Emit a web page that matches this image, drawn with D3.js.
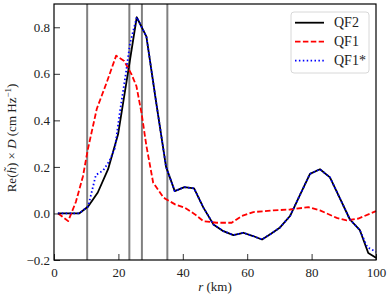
<!DOCTYPE html>
<html>
<head>
<meta charset="utf-8">
<script src="https://cdn.jsdelivr.net/npm/d3@7"></script>
<style>
  body { margin: 0; background: #fff; }
  svg { display: block; }
  svg text { font-family: "Liberation Serif", "DejaVu Serif", serif; }
</style>
</head>
<body>
<script>
// values
// QF2 (black solid)
var rQF2 = [1.2, 4.5, 7.8, 10.6, 13.6, 16.8, 19.9, 22.8, 25.7, 28.7, 31.7, 34.8, 37.5, 40.5, 43.5, 46.4, 49.5, 52.6, 55.7, 58.8, 61.8, 64.6, 67.4, 70.2, 73.3, 76.4, 79.5, 82.6, 85.7, 88.8, 91.9, 95.0, 97.6, 100];
var qf2 = [0, 0, 0, 0.03, 0.09, 0.19, 0.34, 0.59, 0.843, 0.76, 0.48, 0.2, 0.096, 0.113, 0.108, 0.025, -0.047, -0.076, -0.093, -0.083, -0.097, -0.112, -0.087, -0.06, -0.011, 0.08, 0.17, 0.19, 0.155, 0.065, -0.026, -0.072, -0.17, -0.19];

// QF1 (red dashed)
var rQF1 = [1.3, 4.4, 6.8, 9.0, 10.5, 13.3, 16.5, 19.3, 21.8, 24.0, 25.6, 27.2, 28.7, 30.8, 34.0, 37.6, 40.7, 43.8, 46.4, 50.5, 55.2, 58.3, 61.9, 68.1, 73.3, 79.0, 82.6, 87.8, 90.9, 94.5, 100];
var qf1 = [0, -0.033, 0.05, 0.16, 0.275, 0.45, 0.568, 0.678, 0.655, 0.6, 0.547, 0.43, 0.29, 0.132, 0.068, 0.039, 0.024, -0.004, -0.033, -0.04, -0.04, -0.011, 0.006, 0.013, 0.017, 0.027, 0.013, -0.019, -0.03, -0.022, 0.01];

// QF1* (blue dotted)
var rQF1s = [1.2, 4.5, 7.8, 10.6, 13.0, 15.3, 17.2, 18.9, 20.5, 22.3, 23.6, 25.7, 28.7, 31.7, 34.8, 37.5, 40.5, 43.5, 46.4, 49.5, 52.6, 55.7, 58.8, 61.8, 64.6, 67.4, 70.2, 73.3, 76.4, 79.5, 82.6, 85.7, 88.8, 91.9, 95.0, 97.3, 100];
var qf1s = [0, 0, 0, 0.03, 0.165, 0.185, 0.225, 0.28, 0.44, 0.6, 0.73, 0.843, 0.76, 0.48, 0.2, 0.096, 0.113, 0.108, 0.025, -0.047, -0.076, -0.093, -0.083, -0.097, -0.112, -0.087, -0.06, -0.011, 0.08, 0.17, 0.19, 0.155, 0.065, -0.026, -0.072, -0.145, -0.165];

// vertical marker lines (km)
var vLines = [10.3, 23.4, 27.3, 35.2];

var xTicks = [0, 20, 40, 60, 80, 100];
var yTicks = [-0.2, 0.0, 0.2, 0.4, 0.6, 0.8];

var series = [
    {name: 'QF2', r: rQF2, v: qf2, color: 'black', dash: null},
    {name: 'QF1', r: rQF1, v: qf1, color: 'red', dash: '5.5,2.4'},
    {name: 'QF1*', r: rQF1s, v: qf1s, color: 'blue', dash: '1.5,2.4'}
];

var width = 390, height = 298;
var margin = {left: 54, right: 14, top: 4, bottom: 38};

var svg = d3.select('body').append('svg')
    .attr('width', width)
    .attr('height', height);

var x = d3.scaleLinear().domain([0, 100]).range([margin.left, width - margin.right]);
var y = d3.scaleLinear().domain([-0.2, 0.9]).range([height - margin.bottom, margin.top]);

// gray vertical lines behind the data
svg.selectAll('.vline').data(vLines).enter().append('line')
    .attr('class', 'vline')
    .attr('x1', d => x(d)).attr('x2', d => x(d))
    .attr('y1', y(-0.2)).attr('y2', y(0.9))
    .attr('stroke', '#808080')
    .attr('stroke-width', 2);

var line = d3.line();

series.forEach(function(s){
    var pts = s.r.map((r, i) => [x(r), y(s.v[i])]);
    svg.append('path')
        .attr('d', line(pts))
        .attr('fill', 'none')
        .attr('stroke', s.color)
        .attr('stroke-width', 1.8)
        .attr('stroke-dasharray', s.dash)
        .attr('stroke-linejoin', 'round');
});

// axes, ticks pointing inward
var xAxis = svg.append('g')
    .attr('transform', 'translate(0,' + y(-0.2) + ')')
    .call(d3.axisBottom(x).tickValues(xTicks).tickSizeInner(-6).tickSizeOuter(0).tickPadding(8));
var yAxis = svg.append('g')
    .attr('transform', 'translate(' + x(0) + ',0)')
    .call(d3.axisLeft(y).tickValues(yTicks).tickSizeInner(-6).tickSizeOuter(0).tickPadding(4)
        .tickFormat(d => (d < 0 ? '\u2212' : '') + Math.abs(d).toFixed(1)));

[xAxis, yAxis].forEach(function(g){
    g.select('.domain').remove();
    g.selectAll('.tick line').attr('stroke', 'black').attr('stroke-width', 0.8);
    g.selectAll('.tick text')
        .style('font-size', '13px')
        .style('font-family', '"Liberation Serif", serif')
        .attr('fill', '#222');
});

// frame
svg.append('rect')
    .attr('x', x(0)).attr('y', y(0.9))
    .attr('width', x(100) - x(0)).attr('height', y(-0.2) - y(0.9))
    .attr('fill', 'none').attr('stroke', 'black').attr('stroke-width', 1.2);

// axis labels
svg.append('text')
    .attr('x', (x(0) + x(100)) / 2).attr('y', 291)
    .attr('text-anchor', 'middle').attr('font-size', 13).attr('fill', '#222')
    .html('<tspan font-style="italic">r</tspan> (km)');

var yl = svg.append('text')
    .attr('transform', 'translate(16,138) rotate(-90)')
    .attr('text-anchor', 'middle').attr('font-size', 13).attr('fill', '#222');
yl.append('tspan').text('Re(');
yl.append('tspan').attr('font-style', 'italic').text('h\u0303');
yl.append('tspan').text(') \u00d7 ');
yl.append('tspan').attr('font-style', 'italic').text('D');
yl.append('tspan').text(' (cm Hz');
yl.append('tspan').attr('font-size', 9).attr('dy', -5).text('\u22121');
yl.append('tspan').attr('dy', 5).text(')');

// legend
var lg = svg.append('g');
lg.append('rect')
    .attr('x', 291).attr('y', 12).attr('width', 78).attr('height', 61)
    .attr('rx', 3).attr('fill', 'white').attr('fill-opacity', 0.8)
    .attr('stroke', '#d8d8d8').attr('stroke-width', 1);
series.forEach(function(s, i){
    var yy = 22.7 + i * 19;
    lg.append('line')
        .attr('x1', 295).attr('x2', 324).attr('y1', yy).attr('y2', yy)
        .attr('stroke', s.color).attr('stroke-width', 1.8)
        .attr('stroke-dasharray', s.dash);
    lg.append('text')
        .attr('x', 334).attr('y', yy + 4.5)
        .attr('font-size', 14).attr('fill', '#222')
        .text(s.name);
});
</script>
</body>
</html>
